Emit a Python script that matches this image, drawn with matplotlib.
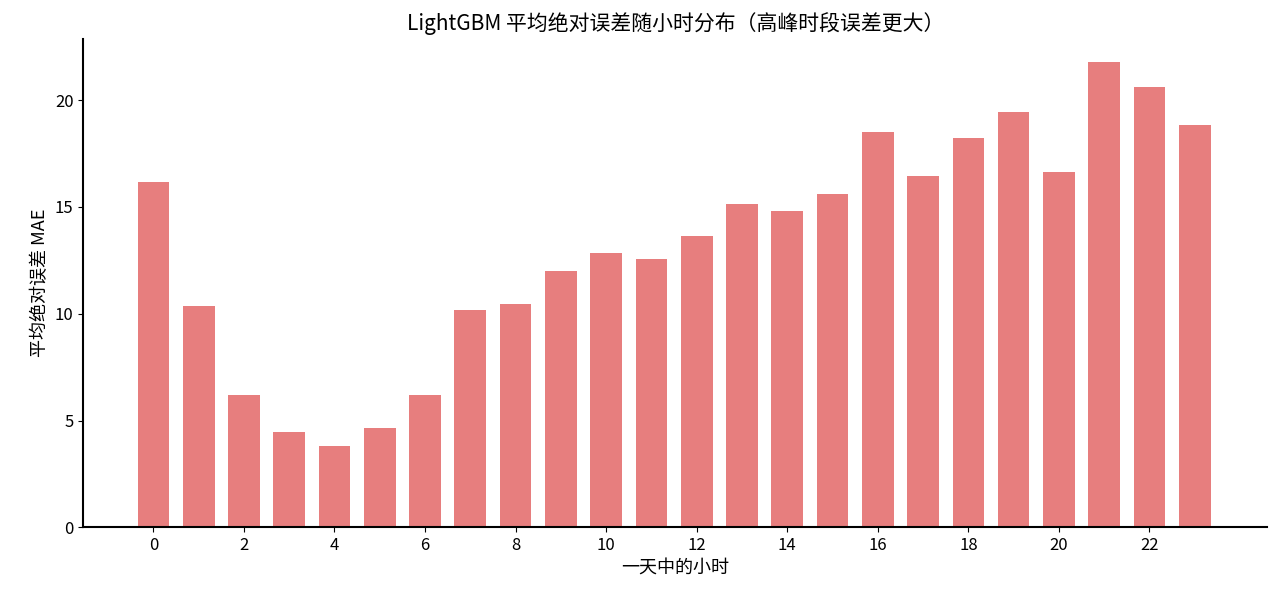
import matplotlib
matplotlib.use("Agg")
import matplotlib.pyplot as plt

plt.rcParams['font.family'] = ['Noto Sans CJK SC', 'DejaVu Sans']

hours = list(range(24))
mae = [16.15, 10.38, 6.2, 4.46, 3.8, 4.65, 6.2, 10.19, 10.47, 12.02, 12.86, 12.54,
       13.66, 15.12, 14.79, 15.59, 18.5, 16.43, 18.22, 19.44, 16.62, 21.78, 20.61, 18.83]

fig, ax = plt.subplots(figsize=(12.8, 5.96), dpi=100)
ax.bar(hours, mae, width=0.7, color='#e57373', alpha=0.92)

ax.set_xlim(-1.55, 24.6)
ax.set_xticks(range(0, 24, 2))
ax.set_title('LightGBM 平均绝对误差随小时分布（高峰时段误差更大）', fontsize=15)
ax.set_xlabel('一天中的小时', fontsize=13)
ax.set_ylabel('平均绝对误差 MAE', fontsize=13)
ax.tick_params(labelsize=12)
ax.spines['top'].set_visible(False)
ax.spines['right'].set_visible(False)
ax.spines['left'].set_linewidth(1.5)
ax.spines['bottom'].set_linewidth(1.5)

plt.subplots_adjust(left=0.065, right=0.99, top=0.935, bottom=0.115)
fig.savefig('out.png', dpi=100)
